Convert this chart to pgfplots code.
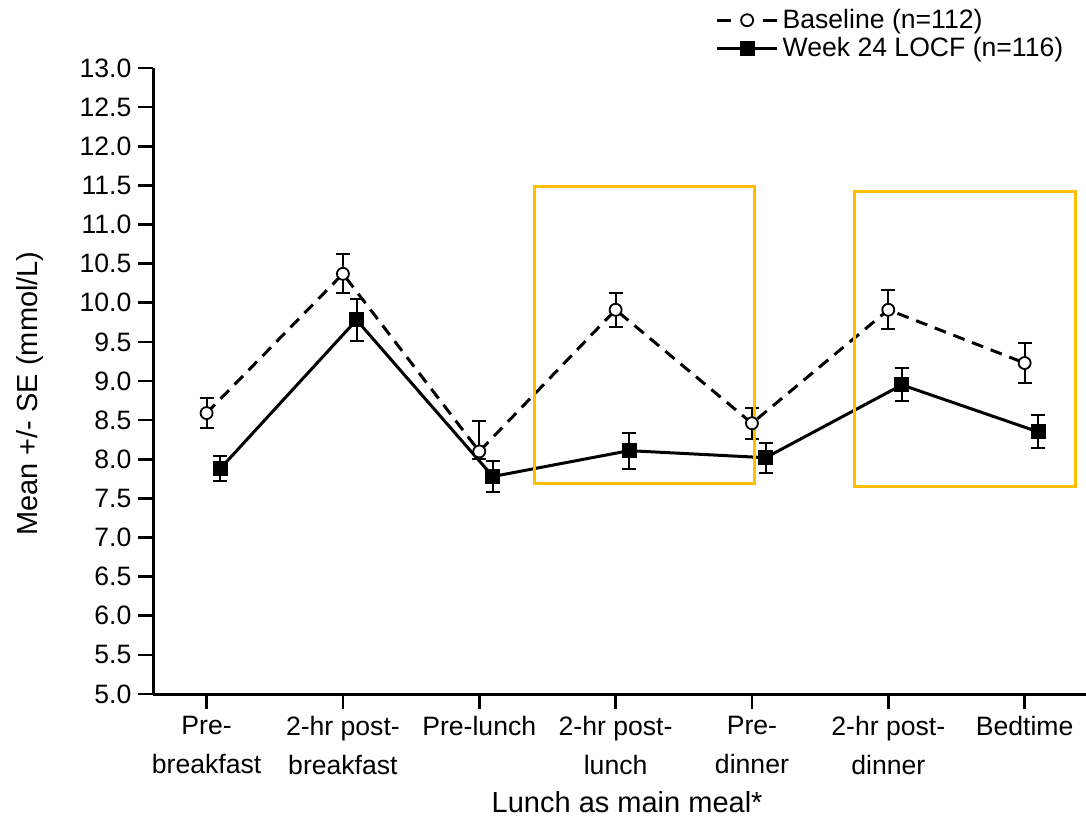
\documentclass[border=0pt]{standalone}
\usepackage{pgfplots}
\pgfplotsset{compat=1.18}
\usepackage{pgfplotstable}
\usepackage{fontspec}
\setmainfont{Liberation Sans}
\definecolor{boxgold}{HTML}{FFBF00}

\pgfplotstableread{
x y ep em
0 8.59 0.19 0.19
1 10.37 0.25 0.25
2 8.10 0.39 0.10
3 9.91 0.22 0.22
4 8.46 0.20 0.20
5 9.91 0.25 0.25
6 9.23 0.25 0.25
}\basetab

\pgfplotstableread{
x y e
0.1 7.88 0.16
1.1 9.78 0.27
2.1 7.78 0.20
3.1 8.11 0.23
4.1 8.02 0.19
5.1 8.95 0.21
6.1 8.35 0.21
}\weektab

\begin{document}
\begin{tikzpicture}
\useasboundingbox (-76.7pt,-65.5pt) rectangle (466.3pt,347pt);
\begin{axis}[
  at={(0,0)}, anchor=south west,
  scale only axis, width=466.3pt, height=313pt,
  xmin=-0.39, xmax=6.45, ymin=5, ymax=13,
  axis lines=left,
  axis line style={line width=1.5pt, -},
  tick align=outside, major tick length=7.5pt,
  tick style={line width=1.3pt, black},
  xtick={0,1,2,3,4,5,6},
  xticklabels={{Pre-\\breakfast},{2-hr post-\\breakfast},{Pre-lunch},{2-hr post-\\lunch},{Pre-\\dinner},{2-hr post-\\dinner},{Bedtime}},
  ytick={5,5.5,6,6.5,7,7.5,8,8.5,9,9.5,10,10.5,11,11.5,12,12.5,13},
  /pgf/number format/assume math mode=true,
  y tick label style={/pgf/number format/.cd, fixed, fixed zerofill, precision=1},
  tick label style={font=\fontsize{13.3}{19.5}\selectfont},
  x tick label style={align=center},
  ylabel={Mean +/- SE (mmol/L)},
  ylabel style={at={(axis description cs:-0.132,0.48)}, anchor=center, font=\fontsize{14.5}{17}\selectfont},
  xlabel={Lunch as main meal*},
  xlabel style={at={(axis description cs:0.508,-0.172)}, anchor=center, font=\fontsize{14.5}{17}\selectfont},
  legend style={at={(0.596,1.0)}, anchor=south west, draw=none, fill=none, font=\fontsize{13.3}{15}\selectfont, row sep=-1pt},
  legend cell align=left,
  clip=false,
]
\addplot[black, line width=1.5pt, dash pattern=on 6pt off 4pt,
  mark=*, mark size=3pt, mark options={solid, fill=white, line width=0.9pt},
  legend image code/.code={
    \draw[solid] (0pt,0pt)--(7pt,0pt) (23pt,0pt)--(30pt,0pt);
    \draw[solid] plot coordinates {(15pt,0pt)};},
  error bars/.cd, y dir=both, y explicit,
  error bar style={solid, line width=1pt, black},
  error mark options={rotate=90, mark size=3.5pt, line width=1pt, solid, black},
  ]
  table[x=x, y=y, y error plus=ep, y error minus=em] {\basetab};
\addlegendentry{Baseline (n=112)}
\addplot[black, line width=1.5pt,
  mark=square*, mark size=3pt, mark options={solid, fill=black},
  legend image code/.code={
    \draw[mark repeat=2, mark phase=2] plot coordinates {(0pt,0pt) (15pt,0pt) (30pt,0pt)};},
  error bars/.cd, y dir=both, y explicit,
  error bar style={solid, line width=1pt, black},
  error mark options={rotate=90, mark size=3.5pt, line width=1pt, solid, black}]
  table[x=x, y=y, y error=e] {\weektab};
\addlegendentry{Week 24 LOCF (n=116)}
\draw[boxgold, line width=1.5pt] (axis cs:2.407,11.48) rectangle (axis cs:4.02,7.69);
\draw[boxgold, line width=1.5pt] (axis cs:4.755,11.42) rectangle (axis cs:6.373,7.65);
\end{axis}
\end{tikzpicture}
\end{document}
